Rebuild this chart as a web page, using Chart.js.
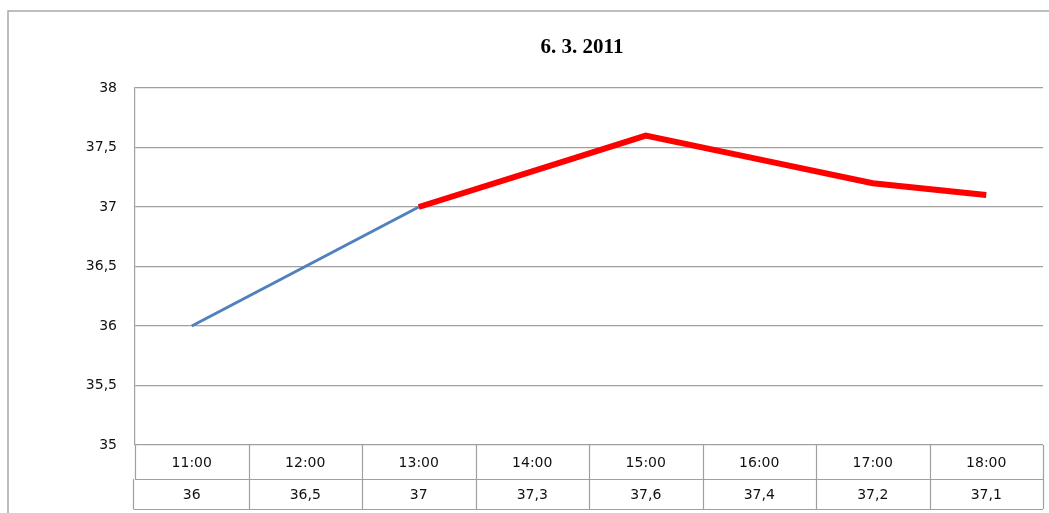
<!DOCTYPE html>
<html>
<head>
<meta charset="utf-8">
<script src="https://cdn.jsdelivr.net/npm/chart.js@4"></script>
<style>
  html, body { margin: 0; padding: 0; background: #fff; }
  #wrap { width: 1049px; height: 513px; position: relative; }
</style>
</head>
<body>
<div id="wrap"><canvas id="tempChart"></canvas></div>
<script>
// data
const hours = ["11:00", "12:00", "13:00", "14:00", "15:00", "16:00", "17:00", "18:00"];
const temps = [36, 36.5, 37, 37.3, 37.6, 37.4, 37.2, 37.1];
const chartTitle = "6. 3. 2011";
const redFrom = 2; // line turns red from 13:00 on

const fmt = v => String(v).replace(".", ",");

// ---------------- frame, title + data table ----------------
const frameAndTable = {
  id: "frameAndTable",
  beforeDraw(chart) {
    const ctx = chart.ctx;
    ctx.save();
    ctx.strokeStyle = "#a8a8a8";
    ctx.lineWidth = 1.5;
    ctx.strokeRect(8, 11, 1200, 700);
    ctx.fillStyle = "#000";
    ctx.font = "bold 21px 'Liberation Serif'";
    ctx.textAlign = "center";
    ctx.textBaseline = "middle";
    ctx.fillText(chartTitle, 582, 48);
    ctx.restore();
  },
  afterDraw(chart) {
    const ctx = chart.ctx;
    const x = chart.scales.x;
    const area = chart.chartArea;
    const n = hours.length;
    const step = (area.right - area.left) / n;
    const top = area.bottom, mid = top + 34, bot = mid + 30;
    ctx.save();
    ctx.strokeStyle = "#a0a0a0";
    ctx.lineWidth = 1.2;
    ctx.beginPath();
    ctx.moveTo(area.left, mid + 0.5); ctx.lineTo(area.right, mid + 0.5);
    ctx.moveTo(area.left - 1.5, bot + 0.5); ctx.lineTo(area.right, bot + 0.5);
    for (let i = 0; i <= n; i++) {
      const px = Math.round(area.left + i * step) + 0.5;
      ctx.moveTo(px, top); ctx.lineTo(px, mid);
      ctx.moveTo(i === 0 ? px - 2 : px, mid); ctx.lineTo(i === 0 ? px - 2 : px, bot);
    }
    ctx.stroke();
    ctx.fillStyle = "#111";
    ctx.font = "14px 'DejaVu Sans'";
    ctx.textAlign = "center";
    ctx.textBaseline = "middle";
    hours.forEach((h, i) => {
      const cx = x.getPixelForValue(i);
      ctx.fillText(h, cx, (top + mid) / 2 + 1);
      ctx.fillText(fmt(temps[i]), cx, (mid + bot) / 2 + 1);
    });
    ctx.restore();
  }
};

// ---------------- chart ----------------
document.addEventListener("DOMContentLoaded", () => {
  new Chart(document.getElementById("tempChart"), {
    type: "line",
    data: {
      labels: hours,
      datasets: [{
        data: temps,
        borderColor: "#4f81bd",
        borderWidth: 3,
        pointRadius: 0,
        fill: false,
        tension: 0,
        segment: {
          borderColor: c => c.p0DataIndex >= redFrom ? "#ff0000" : "#4f81bd",
          borderWidth: c => c.p0DataIndex >= redFrom ? 6 : 3
        }
      }]
    },
    options: {
      responsive: true,
      maintainAspectRatio: false,
      animation: false,
      layout: { padding: { left: 8, right: 6, top: 88, bottom: 68 } },
      plugins: {
        legend: { display: false },
        tooltip: { enabled: false },
        title: { display: false }
      },
      scales: {
        x: {
          display: false,
          offset: true
        },
        y: {
          min: 35,
          max: 38,
          afterFit: s => { s.width = 127; },
          ticks: {
            stepSize: 0.5,
            color: "#111",
            padding: 18,
            font: { family: "'DejaVu Sans'", size: 14 },
            callback: v => fmt(v)
          },
          grid: { color: "#a0a0a0", lineWidth: 1.2, drawTicks: false },
          border: { color: "#a0a0a0", width: 1.2 }
        }
      }
    },
    plugins: [frameAndTable]
  });
});
</script>
</body>
</html>
